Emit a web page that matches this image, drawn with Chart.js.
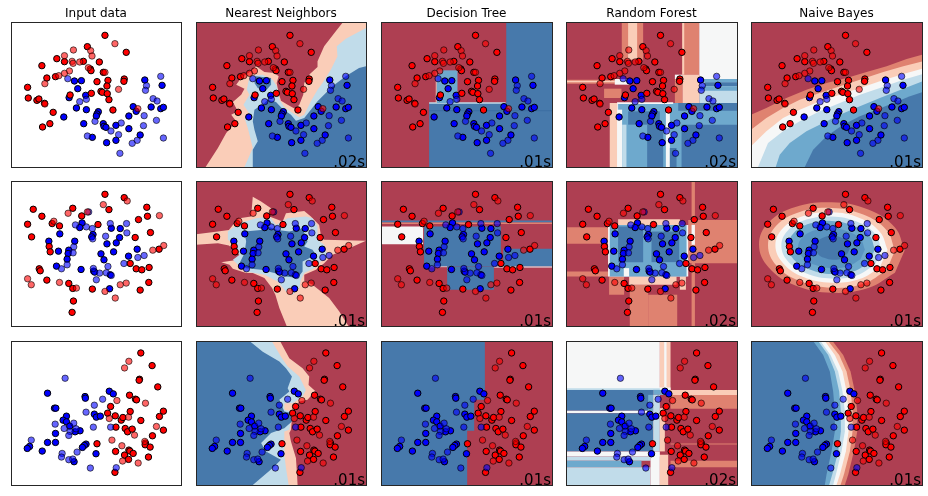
<!DOCTYPE html>
<html>
<head>
<meta charset="utf-8">
<style>
  body { margin: 0; background: #fff; }
  canvas { position: absolute; }
</style>
<script src="https://cdn.jsdelivr.net/npm/chart.js@4"></script>
</head>
<body>
<script>
// color levels of the decision function
const R3 = '#AE3F52', R2 = '#DF8270', R1 = '#FACDB8', W = '#F6F7F7'
const B1 = '#C1DCEA', B2 = '#6EA9CD', B25 = '#5A94C0', B3 = '#4779AB', B4 = '#3E70A4'

const classifiers = ['Input data', 'Nearest Neighbors', 'Decision Tree', 'Random Forest', 'Naive Bayes']
const times = [
  ['', '.02s', '.01s', '.02s', '.01s'],
  ['', '.01s', '.01s', '.02s', '.01s'],
  ['', '.01s', '.01s', '.02s', '.01s']
]

// points of each dataset (same points in every column)
const redTrain1 = [[302,62],[366,113],[249,96],[157,132],[180,141],[237,140],[285,142],[112,153],[258,163],[260,168],[297,173],[127,190],[153,186],[311,197],[360,193],[359,200],[278,201],[308,214],[69,218],[261,236],[290,230],[294,233],[309,237],[197,241],[71,250],[97,257],[103,253],[314,255],[120,266],[146,293],[326,286],[136,327],[114,337]]
const redTest1 = [[332,87],[207,106],[259,108],[263,124],[180,123],[203,140],[206,146],[226,142],[252,159],[302,173],[195,169],[180,176],[163,183],[121,207],[343,224],[121,268],[401,282]]
const blueTrain1 = [[210,199],[231,198],[220,222],[244,242],[194,249],[422,196],[474,212],[387,276],[396,290],[441,277],[470,282],[478,278],[216,280],[246,285],[282,291],[278,298],[276,304],[374,304],[178,307],[238,327],[297,327],[299,335],[305,338],[335,332],[374,342],[408,361],[264,368],[335,377],[307,384]]
const blueTest1 = [[190,192],[470,185],[427,213],[424,227],[447,252],[459,259],[246,254],[226,261],[420,303],[457,317],[272,320],[351,325],[418,333],[320,349],[343,360],[249,364],[399,377],[384,386],[478,370],[347,416]]

const redTrain2 = [[302,58],[360,68],[86,103],[205,100],[314,104],[428,97],[112,124],[232,123],[430,124],[403,134],[69,148],[143,146],[165,153],[281,149],[81,186],[393,188],[439,173],[134,215],[137,231],[465,223],[378,266],[104,282],[107,288],[396,282],[413,285],[435,278],[127,316],[193,326],[205,341],[264,343],[408,346],[434,323],[207,379],[203,413]]
const redTest2 = [[369,78],[297,89],[191,115],[249,111],[466,122],[148,139],[446,226],[479,212],[69,312],[80,330],[165,323],[216,340],[302,350],[348,330],[366,325],[333,370]]
const blueTrain2 = [[233,144],[226,158],[321,160],[348,161],[166,177],[266,179],[262,186],[346,188],[133,199],[211,199],[308,207],[336,204],[193,226],[191,236],[162,229],[328,231],[290,237],[399,223],[373,244],[188,253],[299,255],[156,274],[230,284],[268,289],[271,292],[318,300],[316,342]]
const blueTest2 = [[253,111],[213,150],[246,156],[264,161],[318,146],[367,146],[368,174],[304,184],[265,192],[208,216],[206,234],[401,248],[420,242],[359,266],[188,270],[171,282],[311,275],[267,281],[286,295],[306,294],[321,302],[276,315]]

const redTrain3 = [[410,54],[444,92],[406,133],[405,136],[461,156],[376,181],[394,193],[397,195],[319,215],[378,230],[478,229],[466,245],[310,235],[333,243],[351,256],[356,248],[410,257],[335,277],[363,281],[370,291],[384,283],[478,286],[445,303],[424,325],[423,330],[438,337],[278,327],[334,350],[361,361],[374,346],[377,349],[387,356],[373,374],[433,367],[332,413]]
const redTest3 = [[374,79],[361,99],[338,197],[424,205],[315,251],[373,247],[457,275],[391,301],[323,316],[422,320],[353,333],[355,379],[402,385]]
const blueTrain3 = [[129,175],[242,185],[243,190],[315,169],[327,177],[150,220],[154,220],[186,244],[176,256],[186,261],[270,238],[276,247],[288,244],[196,274],[227,288],[212,291],[153,296],[129,323],[153,323],[245,328],[240,332],[234,338],[75,335],[68,341],[113,349],[275,357],[209,381]]
const blueTest3 = [[182,130],[295,193],[270,211],[245,232],[152,268],[208,265],[179,281],[215,282],[267,277],[319,277],[197,290],[193,302],[80,316],[218,352],[173,356],[171,367],[193,375],[205,373],[258,400],[336,399]]

// regions: [color, polygon] or [color, x0, y0, x1, y1], painted in order
const nn1 = [
  [R1, [[462,22],[440,50],[405,95],[385,140],[385,157],[362,178],[345,205],[342,240],[330,270],[318,283],[295,270],[275,258],[268,235],[262,205],[268,185],[255,175],[225,172],[200,155],[190,165],[155,190],[140,210],[165,222],[155,240],[130,262],[145,290],[125,300],[140,320],[110,355],[85,400],[48,457],[531,457],[531,22]]],
  [B1, [[531,40],[470,72],[443,95],[445,125],[425,165],[400,205],[385,225],[365,260],[345,300],[330,308],[310,295],[285,277],[270,255],[268,240],[262,215],[250,195],[220,180],[195,182],[178,195],[172,225],[180,240],[162,270],[175,290],[180,298],[165,310],[175,340],[190,400],[165,457],[531,457]]],
  [R1, [[182,235],[205,232],[205,250],[190,255]]],
  [B3, [[531,155],[510,160],[470,185],[430,215],[410,235],[385,260],[365,285],[345,310],[320,318],[305,300],[280,283],[260,262],[235,255],[225,265],[195,285],[190,320],[195,345],[205,380],[190,405],[190,457],[531,457]]],
  [B3, [[200,185],[245,190],[245,210],[228,230],[205,220],[195,205]]]
]
const dt1 = [
  [B3, 394, 22, 533, 265],
  [B3, 163, 265, 533, 457],
  [B1, 163, 263, 392, 267],
  [B4, 163, 286, 533, 290],
  [R1, 183, 167, 186, 265],
  [B2, 186, 167, 248, 265]
]
const rf1 = [
  [R2, 186, 22, 250, 135],
  [R1, 205, 22, 232, 135],
  [R2, 367, 22, 418, 180],
  [R1, 367, 22, 373, 180],
  [W, 418, 22, 533, 193],
  [R2, 19, 195, 185, 207],
  [R1, 19, 198, 165, 203],
  [W, 165, 193, 210, 210],
  [R2, 133, 222, 185, 250],
  [R2, 345, 193, 368, 265],
  [R1, 368, 180, 418, 265],
  [W, 345, 180, 368, 193],
  [B1, 418, 193, 533, 265],
  [B2, 418, 193, 533, 203],
  [B3, 435, 203, 533, 215],
  [B2, 418, 215, 533, 228],
  [R1, 150, 265, 172, 457],
  [W, 172, 265, 187, 457],
  [B1, 187, 290, 200, 457],
  [B2, 175, 265, 533, 457],
  [W, 172, 285, 187, 457],
  [B1, 187, 330, 200, 457],
  [W, 172, 263, 340, 268],
  [B3, 205, 290, 300, 330],
  [B3, 262, 330, 310, 457],
  [W, 318, 290, 330, 457],
  [B3, 330, 400, 350, 457],
  [B3, 365, 330, 533, 457],
  [B3, 355, 265, 533, 288]
]
const nb1 = [
  [R2, [[533,120],[485,133],[425,155],[365,172],[305,190],[245,205],[185,225],[125,250],[65,280],[19,300],[19,457],[533,457]]],
  [R1, [[533,140],[475,155],[415,172],[345,195],[285,215],[225,235],[165,255],[115,280],[65,310],[19,345],[19,457],[533,457]]],
  [W, [[533,162],[475,178],[405,200],[345,220],[285,240],[225,260],[165,285],[115,310],[65,350],[19,395],[19,457],[533,457]]],
  [B1, [[533,178],[475,195],[405,220],[345,240],[285,265],[225,290],[165,320],[115,350],[70,385],[40,457],[533,457]]],
  [B2, [[533,200],[475,222],[405,250],[345,275],[285,300],[235,325],[185,350],[135,385],[105,420],[93,457],[533,457]]],
  [B3, [[533,232],[495,245],[445,265],[395,285],[345,305],[295,330],[245,365],[205,405],[180,457],[533,457]]]
]

const nn2 = [
  [R1, [[19,178],[85,170],[118,165],[130,150],[150,130],[185,125],[190,65],[215,80],[245,100],[240,125],[280,140],[290,115],[345,108],[365,125],[390,150],[395,180],[405,195],[531,198],[470,225],[430,240],[405,265],[380,285],[345,300],[345,318],[370,330],[420,370],[450,410],[478,454],[292,454],[270,400],[258,360],[248,340],[225,310],[190,295],[170,295],[130,282],[120,270],[95,262],[145,255],[150,240],[118,212],[85,205],[19,210]]],
  [B1, [[115,170],[150,145],[200,130],[240,125],[260,150],[295,130],[350,125],[370,130],[385,155],[385,195],[405,210],[415,245],[395,260],[375,280],[345,295],[335,315],[330,340],[310,360],[290,350],[265,320],[225,300],[170,290],[150,275],[130,255],[150,240],[135,210],[115,195]]],
  [B3, [[165,170],[215,165],[235,155],[265,165],[300,170],[340,160],[355,200],[345,215],[370,225],[380,240],[360,250],[340,260],[340,290],[325,310],[290,305],[255,295],[215,285],[170,280],[150,265],[165,235],[170,200]]]
]
const dt2 = [
  [B3, 19, 137, 533, 143],
  [R2, 19, 143, 533, 147],
  [W, 19, 155, 145, 208],
  [B3, 148, 155, 378, 275],
  [B3, 217, 275, 357, 345],
  [B3, 385, 222, 533, 275],
  [W, 160, 275, 217, 277],
  [W, 357, 275, 533, 278]
]
const rf2 = [
  [R2, 19, 157, 150, 207],
  [R2, 19, 290, 150, 305],
  [R2, 385, 135, 533, 265],
  [R2, 395, 18, 405, 454],
  [W, 395, 150, 405, 210],
  [R2, 148, 305, 193, 360],
  [R2, 210, 330, 265, 454],
  [R2, 265, 360, 352, 454],
  [R1, 208, 305, 350, 330],
  [R1, 360, 305, 378, 345],
  [R1, 175, 133, 360, 150],
  [W, 145, 150, 385, 305],
  [B2, 150, 150, 380, 305],
  [W, 192, 280, 208, 305],
  [B3, 175, 155, 250, 262],
  [B3, 275, 170, 358, 262]
]
const nb2 = [
  [R2, [[479,227],[450,158],[370,104],[261,82],[152,96],[72,142],[43,209],[72,278],[152,332],[261,354],[370,340],[450,294]], 0.4],
  [R1, [[450,227],[425,166],[355,119],[260,99],[165,111],[95,152],[70,211],[95,272],[165,319],[260,339],[355,327],[425,286]], 0.4],
  [W, [[428,225],[405,171],[344,129],[260,112],[176,123],[115,159],[92,211],[115,265],[176,307],[260,324],[344,313],[405,277]], 0.4],
  [B1, [[410,224],[390,176],[335,140],[260,125],[185,134],[130,166],[110,212],[130,260],[185,296],[260,311],[335,302],[390,270]], 0.4],
  [B2, [[390,223],[373,182],[325,152],[260,138],[195,146],[147,174],[130,213],[147,254],[195,284],[260,298],[325,290],[373,262]], 0.4],
  [B25, [[360,224],[347,193],[310,170],[260,160],[210,166],[173,187],[160,216],[173,247],[210,270],[260,280],[310,274],[347,253]], 0.4],
  [B3, [[315,221],[308,202],[290,189],[264,183],[238,187],[220,199],[213,217],[220,238],[238,249],[264,255],[290,251],[308,236]], 0.4]
]

const nn3 = [
  [R1, [[19,18],[272,18],[300,70],[340,100],[360,125],[358,150],[378,168],[355,195],[330,200],[310,230],[305,285],[300,295],[305,320],[320,370],[322,400],[325,451],[19,451]]],
  [B1, [[19,18],[247,18],[275,65],[295,95],[330,125],[350,165],[340,185],[310,205],[285,205],[285,225],[310,230],[300,285],[285,290],[285,320],[285,360],[290,400],[298,451],[19,451]]],
  [B3, [[19,18],[180,18],[220,50],[270,80],[290,100],[308,125],[295,160],[300,170],[270,195],[285,230],[310,235],[308,260],[285,280],[245,295],[215,325],[230,350],[265,370],[275,375],[250,400],[190,451],[19,451]]]
]
const dt3 = [
  [B3, [[19,18],[330,18],[330,195],[298,195],[298,288],[277,288],[277,451],[19,451]]]
]
const rf3 = [
  [W, 19, 18, 300, 160],
  [R1, 300, 18, 332, 180],
  [W, 313, 18, 320, 160],
  [R1, 332, 165, 533, 180],
  [R2, 332, 180, 533, 222],
  [R2, 332, 378, 533, 398],
  [R2, 332, 326, 533, 329],
  [W, 19, 158, 332, 165],
  [B1, 19, 160, 300, 165],
  [B3, 19, 165, 280, 228],
  [W, 19, 228, 280, 235],
  [B3, 19, 235, 280, 350],
  [B2, 265, 180, 280, 230],
  [B2, 280, 165, 330, 180],
  [B1, 280, 180, 300, 350],
  [R1, 300, 220, 315, 350],
  [W, 19, 350, 300, 365],
  [B1, 19, 365, 272, 378],
  [B2, 19, 378, 245, 398],
  [B1, 19, 398, 272, 451],
  [W, 272, 360, 300, 451],
  [R1, 300, 360, 325, 451]
]
const nb3 = [
  [R2, [[263,18],[295,60],[317,110],[330,170],[337,230],[337,290],[327,350],[310,420],[300,451],[19,451],[19,18]]],
  [R1, [[250,18],[283,60],[305,110],[318,170],[323,230],[323,290],[315,350],[297,420],[287,451],[19,451],[19,18]]],
  [W, [[240,18],[270,60],[293,110],[305,170],[311,230],[311,290],[303,350],[285,420],[275,451],[19,451],[19,18]]],
  [B1, [[227,18],[257,60],[280,110],[293,170],[300,230],[300,290],[290,350],[273,420],[265,451],[19,451],[19,18]]],
  [B2, [[220,18],[250,60],[270,110],[283,170],[288,230],[288,290],[280,350],[265,410],[253,451],[19,451],[19,18]]],
  [B3, [[205,18],[235,60],[255,110],[265,170],[270,230],[270,290],[260,350],[245,420],[240,451],[19,451],[19,18]]]
]

const regions = [
  [null, nn1, dt1, rf1, nb1],
  [null, nn2, dt2, rf2, nb2],
  [null, nn3, dt3, rf3, nb3]
]
const points = [
  [redTrain1, blueTrain1, redTest1, blueTest1],
  [redTrain2, blueTrain2, redTest2, blueTest2],
  [redTrain3, blueTrain3, redTest3, blueTest3]
]

// page layout and axis limits
const colLeft = [11, 196, 381, 566, 751]
const colWidth = [170, 170, 171, 171, 171]
const rowTop = [22, 181, 341]
const rowHeight = [145, 145, 144]
const xLimits = [19, 531]
const yLimits = [[22, 457], [18, 454], [18, 451]]

// frame, timing text
const framePlugin = {
  id: 'frame',
  afterDraw(chart, args, opts) {
    const a = chart.chartArea, ctx = chart.ctx
    ctx.save()
    ctx.strokeStyle = '#262626'
    ctx.lineWidth = 1
    ctx.strokeRect(a.left + 0.5, a.top + 0.5, a.right - a.left, a.bottom - a.top)
    if (opts.time) {
      ctx.fillStyle = '#000'
      ctx.font = '15px "DejaVu Sans"'
      ctx.textAlign = 'right'
      ctx.textBaseline = 'alphabetic'
      ctx.fillText(opts.time, a.right - 1, a.bottom - 0.5)
    }
    ctx.restore()
  }
}

function pointSet(data, rgb, alpha, order) {
  return {
    data: data,
    order: order,
    pointRadius: 3.2,
    pointHoverRadius: 3.2,
    pointBorderWidth: 1,
    pointBackgroundColor: 'rgba(' + rgb + ',' + alpha + ')',
    pointBorderColor: 'rgba(0,0,0,' + alpha + ')'
  }
}

function regionSet(r, i) {
  let poly = r[1]
  if (!Array.isArray(poly)) {
    poly = [[r[1], r[2]], [r[3], r[2]], [r[3], r[4]], [r[1], r[4]]]
  }
  return {
    data: poly,
    order: 1000 - i,
    showLine: true,
    fill: 'shape',
    tension: Array.isArray(r[1]) && r[2] ? r[2] : 0,
    backgroundColor: r[0],
    borderColor: 'transparent',
    borderWidth: 0,
    borderDash: [1, 0],
    pointRadius: 0,
    pointHoverRadius: 0
  }
}

for (let row = 0; row < 3; row++) {
  for (let col = 0; col < 5; col++) {
    const yMin = yLimits[row][0], yMax = yLimits[row][1]
    const datasets = [
      pointSet(points[row][0], '255,0,0', 1, 2),
      pointSet(points[row][1], '0,0,255', 1, 2),
      pointSet(points[row][2], '255,0,0', 0.6, 1),
      pointSet(points[row][3], '0,0,255', 0.6, 1)
    ]
    if (regions[row][col]) {
      datasets.push(regionSet([R3, xLimits[0], yMin, 540, yMax], 0))
      regions[row][col].forEach(function (r, i) {
        datasets.push(regionSet(r, i + 1))
      })
    }

    const padTop = row === 0 ? 22 : 6
    const canvas = document.createElement('canvas')
    canvas.width = colWidth[col] + 12
    canvas.height = rowHeight[row] + padTop + 8
    canvas.style.left = (colLeft[col] - 6) + 'px'
    canvas.style.top = (rowTop[row] - padTop) + 'px'
    document.body.appendChild(canvas)

    new Chart(canvas, {
      type: 'scatter',
      data: { datasets: datasets },
      plugins: [framePlugin],
      options: {
        responsive: false,
        animation: false,
        events: [],
        layout: { padding: { left: 6, right: 6, top: row === 0 ? 0 : padTop, bottom: 8 } },
        scales: {
          x: { display: false, min: xLimits[0], max: xLimits[1] },
          y: { display: false, min: yMin, max: yMax, reverse: true }
        },
        plugins: {
          legend: { display: false },
          tooltip: { enabled: false },
          title: {
            display: row === 0,
            text: classifiers[col],
            color: '#000',
            font: { family: '"DejaVu Sans"', size: 12, weight: 'normal', lineHeight: 1 },
            padding: { top: 8, bottom: 2 }
          },
          frame: { time: times[row][col] }
        }
      }
    })
  }
}
</script>
</body>
</html>
